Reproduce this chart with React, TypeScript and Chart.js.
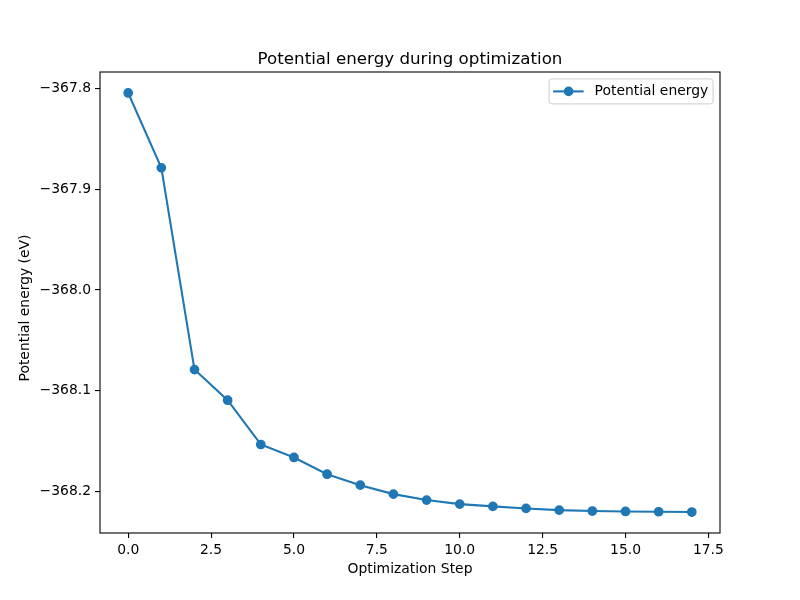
import React, { useEffect, useRef } from "react";
import { Chart, registerables } from "chart.js";

Chart.register(...registerables);

const steps = [0, 1, 2, 3, 4, 5, 6, 7, 8, 9, 10, 11, 12, 13, 14, 15, 16, 17];
const energies = [
  -367.8043, -367.8787, -368.0791, -368.1095, -368.1535, -368.1664, -368.183,
  -368.1939, -368.2028, -368.2087, -368.2127, -368.215, -368.217, -368.2187,
  -368.2196, -368.22, -368.2203, -368.2206,
];
const xTicks = [0, 2.5, 5, 7.5, 10, 12.5, 15, 17.5];
const yTicks = [-368.2, -368.1, -368.0, -367.9, -367.8];
const seriesLabel = "Potential energy";
const chartTitle = "Potential energy during optimization";
const xLabel = "Optimization Step";
const yLabel = "Potential energy (eV)";

const BLUE = "#1f77b4";
const FONT = "DejaVu Sans";

function fmt(v: number) {
  const s = Math.abs(v).toFixed(1);
  return v < 0 ? "\u2212" + s : s;
}

export default function App() {
  const ref = useRef<HTMLCanvasElement | null>(null);

  useEffect(() => {
    if (!ref.current) return;
    const xMin = Math.min(...steps);
    const xMax = Math.max(...steps);
    const xm = (xMax - xMin) * 0.05;
    const yMin = Math.min(...energies);
    const yMax = Math.max(...energies);
    const ym = (yMax - yMin) * 0.05;

    const decor = {
      id: "decor",
      afterDraw(chart: any) {
        const { ctx, chartArea: a } = chart;
        ctx.save();
        // frame
        ctx.strokeStyle = "#000";
        ctx.lineWidth = 1.1;
        ctx.strokeRect(a.left, a.top, a.right - a.left, a.bottom - a.top);
        // title
        ctx.fillStyle = "#000";
        ctx.font = `16.7px "${FONT}"`;
        ctx.textAlign = "center";
        ctx.textBaseline = "alphabetic";
        ctx.fillText(chartTitle, (a.left + a.right) / 2, a.top - 8.3);
        // x label
        ctx.font = `13.9px "${FONT}"`;
        ctx.textBaseline = "middle";
        ctx.fillText(xLabel, (a.left + a.right) / 2, 569);
        // y label
        ctx.save();
        ctx.translate(25.5, 308);
        ctx.rotate(-Math.PI / 2);
        ctx.fillText(yLabel, 0, 0);
        ctx.restore();
        // legend
        const lw = 164, lh = 25;
        const lx = a.right - 6.9 - lw;
        const ly = a.top + 6.9;
        ctx.beginPath();
        ctx.roundRect(lx, ly, lw, lh, 2.8);
        ctx.fillStyle = "rgba(255,255,255,0.8)";
        ctx.fill();
        ctx.strokeStyle = "#cccccc";
        ctx.lineWidth = 1;
        ctx.stroke();
        const cy = ly + lh / 2;
        ctx.strokeStyle = BLUE;
        ctx.lineWidth = 2.08;
        ctx.beginPath();
        ctx.moveTo(lx + 4, cy);
        ctx.lineTo(lx + 34.5, cy);
        ctx.stroke();
        ctx.fillStyle = BLUE;
        ctx.beginPath();
        ctx.arc(lx + 19.5, cy, 4.85, 0, Math.PI * 2);
        ctx.fill();
        ctx.fillStyle = "#000";
        ctx.textAlign = "left";
        ctx.textBaseline = "middle";
        ctx.font = `13.9px "${FONT}"`;
        ctx.fillText(seriesLabel, lx + 45.5, cy);
        ctx.restore();
      },
    };

    const chart = new Chart(ref.current, {
      type: "line",
      data: {
        datasets: [
          {
            label: seriesLabel,
            data: steps.map((s, i) => ({ x: s, y: energies[i] })),
            borderColor: BLUE,
            backgroundColor: BLUE,
            borderWidth: 2.08,
            pointRadius: 4.17,
            pointBorderWidth: 1.39,
            pointBorderColor: BLUE,
            pointBackgroundColor: BLUE,
            tension: 0,
          },
        ],
      },
      options: {
        responsive: false,
        animation: false,
        layout: { padding: { left: 0, top: 72, right: 80, bottom: 0 } },
        plugins: {
          legend: { display: false },
          title: { display: false },
          tooltip: { enabled: false },
        },
        scales: {
          x: {
            type: "linear",
            min: xMin - xm,
            max: xMax + xm,
            afterBuildTicks: (axis: any) => {
              axis.ticks = xTicks.map((v) => ({ value: v }));
            },
            afterFit: (s: any) => {
              s.height = 67;
            },
            grid: {
              drawOnChartArea: false,
              drawTicks: true,
              tickLength: 5,
              color: "#000",
              lineWidth: 1.1,
            },
            border: { display: false },
            ticks: {
              color: "#000",
              padding: 4,
              maxRotation: 0,
              autoSkip: false,
              font: { family: FONT, size: 13.9 },
              callback: (v: any) => fmt(Number(v)),
            },
          },
          y: {
            type: "linear",
            min: yMin - ym,
            max: yMax + ym,
            afterBuildTicks: (axis: any) => {
              axis.ticks = yTicks.map((v) => ({ value: v }));
            },
            afterFit: (s: any) => {
              s.width = 100;
            },
            grid: {
              drawOnChartArea: false,
              drawTicks: true,
              tickLength: 5,
              color: "#000",
              lineWidth: 1.1,
            },
            border: { display: false },
            ticks: {
              color: "#000",
              padding: 4,
              autoSkip: false,
              font: { family: FONT, size: 13.9 },
              callback: (v: any) => fmt(Number(v)),
            },
          },
        },
      },
      plugins: [decor],
    });
    return () => chart.destroy();
  }, []);

  return (
    <div style={{ position: "fixed", left: 0, top: 0, width: 800, height: 600, background: "#fff" }}>
      <canvas ref={ref} width={800} height={600} />
    </div>
  );
}
